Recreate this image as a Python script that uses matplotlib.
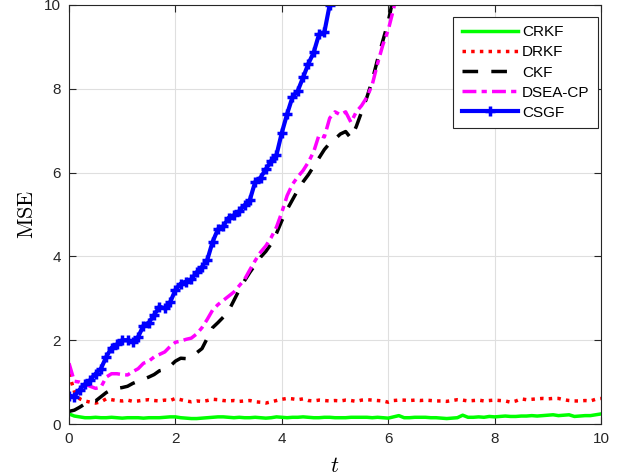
import numpy as np
import matplotlib
matplotlib.use("Agg")
import matplotlib.pyplot as plt

plt.rcParams['font.family'] = ['Liberation Sans', 'DejaVu Sans']
plt.rcParams['mathtext.fontset'] = 'cm'

# time axis, step 0.1
t_full = np.round(np.arange(0, 10.01, 0.1), 1)

crkf = [0.24, 0.19, 0.17, 0.15, 0.15, 0.16, 0.15, 0.15, 0.16, 0.15,
        0.14, 0.15, 0.15, 0.15, 0.14, 0.15, 0.15, 0.15, 0.16, 0.17,
        0.17, 0.15, 0.14, 0.13, 0.13, 0.14, 0.15, 0.16, 0.17, 0.17,
        0.16, 0.15, 0.16, 0.15, 0.15, 0.16, 0.15, 0.14, 0.15, 0.17,
        0.16, 0.15, 0.16, 0.16, 0.17, 0.16, 0.15, 0.15, 0.16, 0.16,
        0.15, 0.15, 0.15, 0.16, 0.16, 0.16, 0.16, 0.15, 0.16, 0.15,
        0.14, 0.17, 0.20, 0.15, 0.15, 0.16, 0.16, 0.16, 0.15, 0.15,
        0.14, 0.13, 0.14, 0.15, 0.21, 0.16, 0.16, 0.17, 0.16, 0.18,
        0.17, 0.18, 0.19, 0.18, 0.18, 0.19, 0.19, 0.20, 0.19, 0.20,
        0.21, 0.22, 0.20, 0.21, 0.22, 0.18, 0.19, 0.20, 0.20, 0.22,
        0.24]

drkf = [1.20, 0.78, 0.60, 0.55, 0.52, 0.50, 0.53, 0.60, 0.58, 0.56,
        0.55, 0.57, 0.54, 0.55, 0.57, 0.58, 0.56, 0.55, 0.57, 0.56,
        0.61, 0.58, 0.55, 0.53, 0.55, 0.54, 0.56, 0.59, 0.58, 0.56,
        0.55, 0.56, 0.54, 0.55, 0.56, 0.53, 0.52, 0.50, 0.53, 0.56,
        0.59, 0.61, 0.60, 0.58, 0.60, 0.56, 0.55, 0.57, 0.56, 0.55,
        0.56, 0.55, 0.57, 0.56, 0.54, 0.57, 0.58, 0.57, 0.56, 0.55,
        0.52, 0.56, 0.57, 0.57, 0.56, 0.57, 0.56, 0.57, 0.56, 0.55,
        0.55, 0.54, 0.56, 0.58, 0.57, 0.55, 0.56, 0.57, 0.55, 0.56,
        0.57, 0.56, 0.55, 0.52, 0.55, 0.60, 0.58, 0.59, 0.60, 0.61,
        0.60, 0.61, 0.61, 0.58, 0.56, 0.55, 0.55, 0.56, 0.55, 0.59,
        0.61]

t_ckf = t_full[:63]
ckf = [0.30, 0.33, 0.40, 0.48, 0.55, 0.55, 0.65, 0.75, 0.82, 0.85,
       0.87, 0.90, 0.97, 1.02, 1.07, 1.12, 1.18, 1.27, 1.30, 1.38,
       1.50, 1.57, 1.56, 1.62, 1.70, 1.80, 2.05, 2.30, 2.42, 2.55,
       2.70, 2.95, 3.20, 3.42, 3.62, 3.80, 3.98, 4.12, 4.30, 4.55,
       4.85, 5.12, 5.35, 5.58, 5.78, 5.95, 6.15, 6.35, 6.55, 6.70,
       6.80, 6.92, 6.98, 6.82, 7.10, 7.45, 7.80, 8.20, 8.70, 9.15,
       9.60, 10.20, 10.80]

t_dsea = t_full[:63]
dsea = [1.45, 1.02, 1.00, 0.95, 0.90, 0.85, 0.88, 1.12, 1.20, 1.20,
        1.18, 1.17, 1.25, 1.32, 1.45, 1.50, 1.60, 1.66, 1.72, 1.85,
        1.95, 1.98, 2.02, 2.05, 2.15, 2.30, 2.50, 2.72, 2.85, 2.95,
        3.05, 3.15, 3.30, 3.45, 3.68, 3.90, 4.10, 4.25, 4.45, 4.70,
        5.05, 5.45, 5.72, 5.90, 6.05, 6.25, 6.50, 6.90, 6.85, 7.30,
        7.45, 7.38, 7.45, 7.20, 7.45, 7.60, 7.80, 8.10, 8.60, 9.05,
        9.40, 9.90, 10.50]

t_csgf = t_full[:51]
csgf = [0.68, 0.65, 0.82, 0.95, 1.05, 1.20, 1.32, 1.60, 1.82, 1.90,
        2.00, 2.00, 1.96, 2.08, 2.35, 2.42, 2.60, 2.80, 2.76, 2.90,
        3.20, 3.35, 3.40, 3.45, 3.62, 3.75, 3.92, 4.35, 4.65, 4.72,
        4.92, 4.98, 5.08, 5.22, 5.35, 5.78, 5.88, 6.08, 6.28, 6.42,
        6.95, 7.40, 7.80, 7.95, 8.27, 8.60, 8.87, 9.30, 9.35, 10.00,
        10.50]

names = ["CRKF", "DRKF", "CKF", "DSEA-CP", "CSGF"]

fig = plt.figure(figsize=(6.29, 4.76), dpi=100)
ax = fig.add_axes([69/629, 52/476, 532/629, 419/476])

ax.plot(t_full, crkf, color='#00ff00', lw=2.5, label=names[0])
ax.plot(t_full, drkf, color='#ff0000', lw=2.5, dashes=(1, 1.5), label=names[1])
ax.plot(t_ckf, ckf, color='k', lw=2.5, dashes=(4.5, 3.8), label=names[2])
ax.plot(t_dsea, dsea, color='#ff00ff', lw=2.5, dashes=(4, 1.5, 1.5, 1.5), label=names[3])
ax.plot(t_csgf, csgf, color='#0000ff', lw=3, marker='+', ms=7, mew=2.5, label=names[4])

ax.set_xlim(0, 10)
ax.set_ylim(0, 10)
ax.set_xticks(np.arange(0, 11, 2))
ax.set_yticks(np.arange(0, 11, 2))
ax.tick_params(direction='in', top=True, right=True, labelsize=11, length=5,
               color='#262626', labelcolor='#262626', pad=6)
for s in ax.spines.values():
    s.set_color('#262626')
    s.set_linewidth(0.8)
ax.grid(True, color='#dfdfdf', lw=0.8)
ax.set_axisbelow(True)

ax.set_xlabel(r'$t$', fontsize=16, labelpad=7)
ax.set_ylabel(r'$\mathrm{MSE}$', fontsize=16, labelpad=4)

leg = ax.legend(loc='upper right', bbox_to_anchor=(0.9944, 0.9714),
                borderaxespad=0, fontsize=11, numpoints=1, handlelength=3.7,
                fancybox=False, edgecolor='#262626', framealpha=1,
                labelspacing=0.4, handletextpad=0.26, borderpad=0.55)
leg.get_frame().set_linewidth(0.8)

fig.savefig("out.png", dpi=100)
